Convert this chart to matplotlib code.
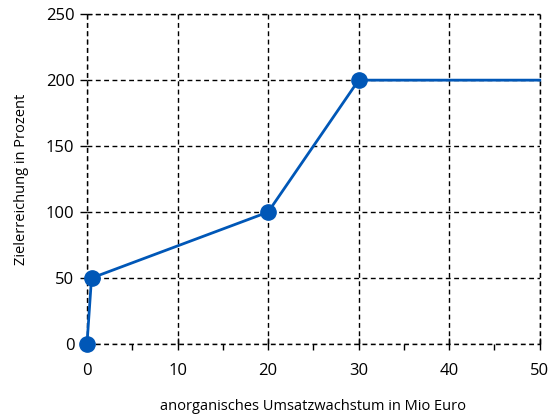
import matplotlib
matplotlib.use('Agg')
import matplotlib.pyplot as plt
from matplotlib.ticker import MultipleLocator

plt.rcParams['font.family'] = ['Open Sans', 'DejaVu Sans']

# Zielerreichung vs. anorganisches Wachstum
umsatz = [0, 0.5, 20, 30, 50]
ziel = [0, 50, 100, 200, 200]
n_marker = 4  # last point has no marker

blue = '#0057B7'

fig = plt.figure(figsize=(5.59, 4.17), dpi=100)
ax = fig.add_axes([0.1556, 0.175, 0.81, 0.791])

ax.plot(umsatz, ziel, color=blue, lw=2, zorder=3, clip_on=False)
ax.plot(umsatz[:n_marker], ziel[:n_marker], 'o', color=blue, ms=11, zorder=4, clip_on=False)

ax.set_xlim(0, 50)
ax.set_ylim(0, 250)
ax.xaxis.set_major_locator(MultipleLocator(10))
ax.xaxis.set_minor_locator(MultipleLocator(5))
ax.yaxis.set_major_locator(MultipleLocator(50))

for s in ax.spines.values():
    s.set_visible(False)
dash = (0, (3.5, 2.5))
ax.grid(True, which='major', color='black', ls=dash, lw=1)
ax.set_axisbelow(True)
for x in [0, 50]:
    ax.axvline(x, color='black', ls=dash, lw=1, zorder=1, clip_on=False)
for y in [0, 250]:
    ax.axhline(y, color='black', ls=dash, lw=1, zorder=1, clip_on=False)

ax.tick_params(axis='x', which='major', direction='inout', length=8, width=1, labelsize=12, pad=10)
ax.tick_params(axis='x', which='minor', direction='out', length=4, width=1)
ax.tick_params(axis='y', which='major', direction='out', length=5, width=1, labelsize=12, pad=4)

ax.set_xlabel('anorganisches Umsatzwachstum in Mio Euro', fontsize=10.5, labelpad=14)
ax.set_ylabel('Zielerreichung in Prozent', fontsize=10.5, labelpad=12)

fig.savefig('out.png', dpi=100)
